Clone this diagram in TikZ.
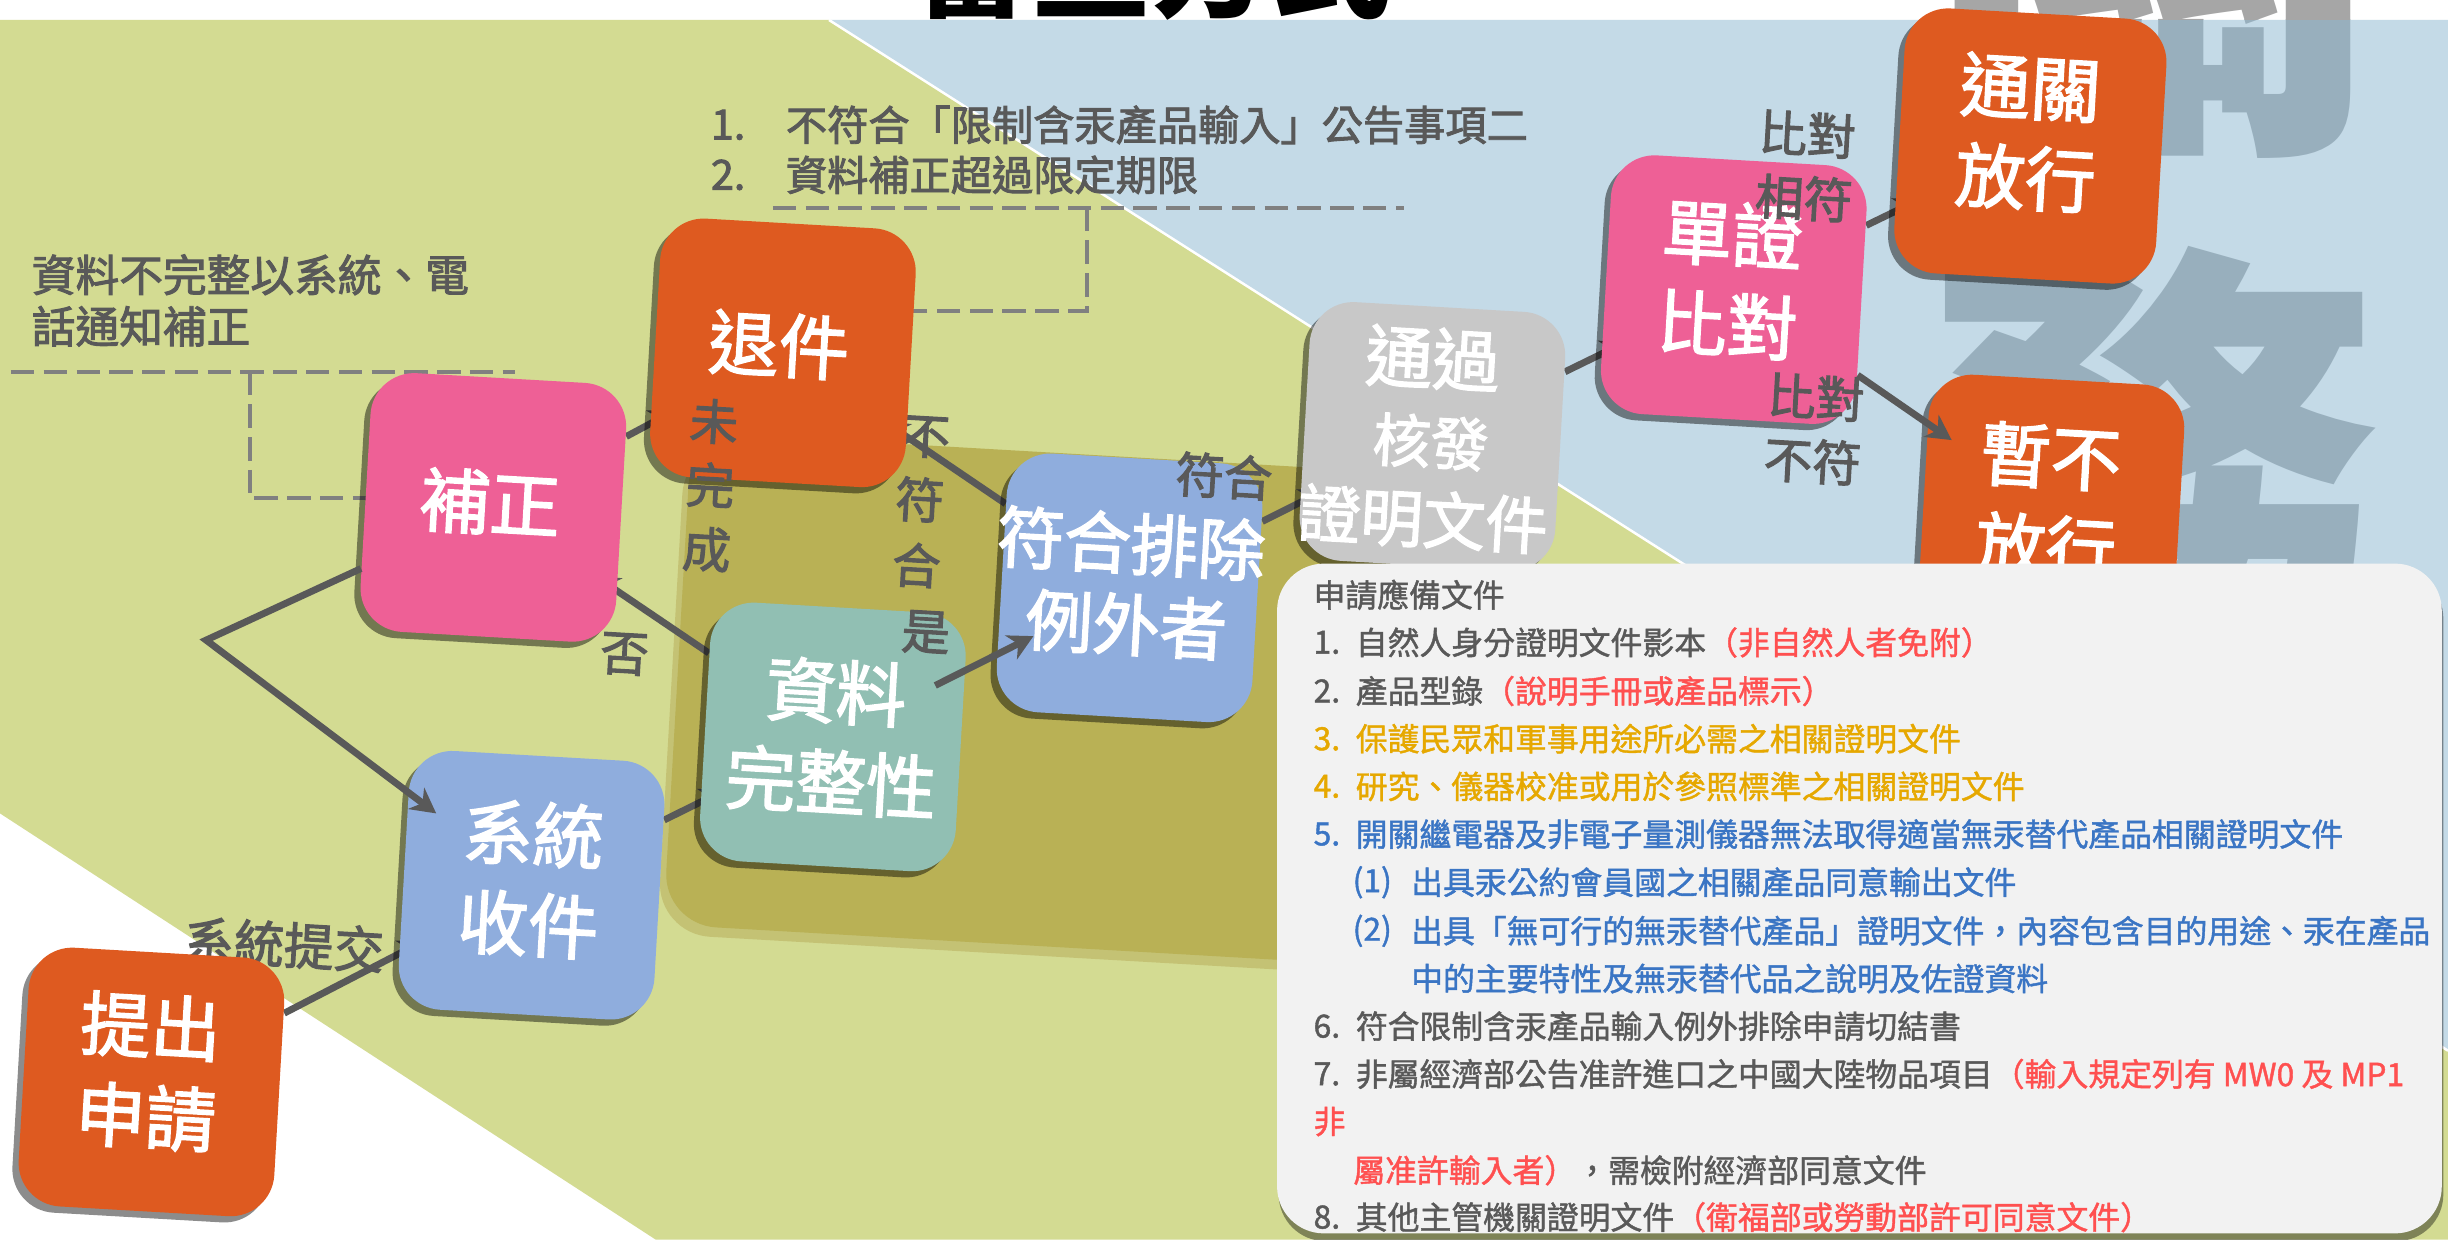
\documentclass[tikz,border=0pt]{standalone}
\usepackage{fontspec}
\setmainfont{Noto Sans CJK TC}
\newfontfamily\medf{Noto Sans CJK TC}[FakeBold=2.2]
\newfontfamily\semif{Noto Sans CJK TC}[FakeBold=1.3]
\usetikzlibrary{shadows,arrows.meta,calc}
\definecolor{cGreen}{RGB}{211,219,146}
\definecolor{cBlue}{RGB}{196,218,231}
\definecolor{cOlive}{RGB}{185,177,85}
\definecolor{cOliveL}{RGB}{196,194,116}
\definecolor{cOrange}{RGB}{222,90,32}
\definecolor{cPink}{RGB}{238,96,150}
\definecolor{cBoxBlue}{RGB}{143,173,221}
\definecolor{cTeal}{RGB}{145,191,179}
\definecolor{cGrayBox}{RGB}{200,200,200}
\definecolor{cLabel}{RGB}{89,89,89}
\definecolor{cDash}{RGB}{128,128,128}
\definecolor{cList}{RGB}{242,242,242}
\definecolor{cRed}{RGB}{255,80,80}
\definecolor{cGold}{RGB}{230,168,0}
\definecolor{cTBlue}{RGB}{58,117,196}
\definecolor{cWmBlue}{RGB}{152,175,189}
\definecolor{cWmGray}{RGB}{166,166,166}
\pgfdeclarelayer{bg}
\pgfdeclarelayer{mid}
\pgfdeclarelayer{fg}
\pgfsetlayers{bg,mid,main,fg}
\begin{document}
\begin{tikzpicture}[x=0.5pt,y=-0.5pt,
  flowbox/.style={rounded corners=14pt, minimum width=82pt, minimum height=83pt, rotate=-3.3, inner sep=0pt,
    drop shadow={shadow xshift=-2pt, shadow yshift=-2pt, opacity=0.45, fill=black}},
  btext/.style={text=white, font=\medf\fontsize{22.5pt}{29pt}\selectfont, align=center, rotate=-3.3, inner sep=0pt},
  lbl/.style={text=cLabel, font=\medf\fontsize{15.5pt}{20.5pt}\selectfont, align=center, rotate=-3.3, inner sep=0pt},
  notetxt/.style={text=cLabel, font=\medf\fontsize{13.2pt}{16pt}\selectfont, anchor=west, inner sep=0pt},
  conn/.style={draw=cLabel, line width=2.2pt, -{Stealth[length=8pt,width=8.5pt,inset=2.5pt]}},
  hid/.style={conn, shorten >=-9pt},
  dsh/.style={draw=cDash, line width=1.25pt, dash pattern=on 7.5pt off 3pt},
  lt/.style={font=\semif\fontsize{10.2pt}{12pt}\selectfont, anchor=west, inner sep=0pt, text=cLabel},
  wm/.style={font=\fontsize{147.5pt}{150pt}\selectfont\bfseries, anchor=base, inner sep=0pt}
]
\useasboundingbox (0,0) rectangle (1568,794);

\begin{pgfonlayer}{bg}
  \fill[white] (0,0) rectangle (1568,794);
  \begin{scope}
    \clip (0,0) rectangle (1568,12.8);
    \node[font=\fontsize{38.4pt}{40pt}\selectfont\bfseries, text=black, anchor=base, inner sep=0pt] (title) at (737.6,5.4) {審查方式};
  \end{scope}
  \fill[cGreen] (0,12.8) -- (531,12.8) -- (1568,673) -- (1568,794) -- (420,794) -- (0,521) -- cycle;
  \fill[cBlue] (531,12.8) -- (1568,12.8) -- (1568,673) -- cycle;
  \draw[white, line width=0.8pt] (531,12.8) -- (1568,673);
  \begin{scope}
    \clip (0,12.8) rectangle (1568,794);
    \node[wm, text=cWmBlue] (wmA) at (1378,75) {關};
    \node[wm, text=cWmBlue] (wmB) at (1378,410) {務};
  \end{scope}
  \begin{scope}
    \clip (0,0) rectangle (1568,12.8);
    \node[wm, text=cWmGray] (wmC) at (1378,75) {關};
  \end{scope}
  \node[fill=cOliveL, rounded corners=17pt, minimum width=237.5pt, minimum height=158pt, rotate=-3.3, inner sep=0pt] (olb) at (667,454) {};
  \node[fill=cOlive, rounded corners=17pt, minimum width=237.5pt, minimum height=158pt, rotate=-3.3, inner sep=0pt] (ol) at (671,448) {};
\end{pgfonlayer}

% boxes
\node[flowbox, fill=cOrange] (tc) at (97,693) {};
\node[btext] (tc-t) at (95,686.5) {提出\\申請};
\node[flowbox, fill=cBoxBlue] (xs) at (340.5,567) {};
\node[btext] (xs-t) at (340,563) {系統\\收件};
\node[flowbox, fill=cPink] (bz) at (316,325) {};
\node[btext] (bz-t) at (314,322) {補正};
\node[flowbox, fill=cOrange] (tj) at (501.5,226) {};
\node[btext] (tj-t) at (499,221) {退件};
\node[flowbox, fill=cTeal] (zl) at (533.5,472) {};
\node[btext] (zl-t) at (534,472) {資料\\完整性};
\node[flowbox, fill=cBoxBlue] (fh) at (723.5,376.5) {};
\node[btext, font=\medf\fontsize{21.5pt}{26pt}\selectfont] (fh-t) at (723,374) {符合排除\\例外者};
\node[flowbox, fill=cGrayBox] (tg) at (917.5,279.5) {};
\node[btext, font=\medf\fontsize{21.5pt}{26pt}\selectfont] (tg-t1) at (917.8,229.5) {通過};
\node[btext, font=\medf\fontsize{18.5pt}{22pt}\selectfont] (tg-t2) at (916.4,283) {核發};
\node[btext, font=\medf\fontsize{20pt}{24pt}\selectfont] (tg-t3) at (911.5,332.5) {證明文件};
\node[flowbox, fill=cPink] (dz) at (1110.5,185.5) {};
\node[btext] (dz-t) at (1108,179) {單證\\比對};
\node[flowbox, fill=cOrange, minimum width=84pt, minimum height=85pt] (tf) at (1300.5,93.5) {};
\node[btext] (tf-t) at (1299,85) {通關\\放行};
\node[flowbox, fill=cOrange] (zb) at (1314,326) {};
\node[btext] (zb-t) at (1312,321.5) {暫不\\放行};
\coordinate (apex) at (132,410);

\begin{pgfonlayer}{mid}
  % dashed notes
  \draw[dsh] (7,238) -- (330,238);
  \draw[dsh] (160,238) -- (160,319) -- (250,319);
  \draw[dsh] (495,133) -- (899,133);
  \draw[dsh] (696,133) -- (696,199) -- (570,199);
  \node[notetxt, font=\medf\fontsize{14pt}{16pt}\selectfont] (n1a) at (20,176) {資料不完整以系統、電};
  \node[notetxt, font=\medf\fontsize{14pt}{16pt}\selectfont] (n1b) at (20,209) {話通知補正};
  \node[notetxt] (n2a1) at (455,80) {1.};
  \node[notetxt] (n2a) at (503,80) {不符合「限制含汞產品輸入」公告事項二};
  \node[notetxt] (n2b1) at (455,112) {2.};
  \node[notetxt] (n2b) at (503,112) {資料補正超過限定期限};
  % hidden-end connectors
  \draw[hid] (tc) -- (xs);
  \draw[hid] (xs) -- (zl);
  \draw[hid] (zl) -- (bz);
  \draw[hid] (bz) -- (tj);
  \draw[hid] (fh) -- (tj);
  \draw[hid] (fh) -- (tg);
  \draw[hid] (tg) -- (dz);
  \draw[hid] (dz) -- (tf);
  \node[lbl, font=\medf\fontsize{16pt}{20pt}\selectfont] (l-xt) at (182,605) {系統提交};
  \node[lbl] (l-bu) at (593,280) {不};
\end{pgfonlayer}

\begin{pgfonlayer}{fg}
  \draw[conn] (bz) -- (apex) -- ($(apex)!0.707!(xs)$);
  \draw[conn] ($(zl)!0.345!(fh)$) -- ($(zl)!0.676!(fh)$);
  \draw[conn] (dz) -- ($(dz)!0.686!(zb)$);
  \node[lbl] (l-wwc) at (455,311) {未\\完\\成};
  \node[lbl] (l-fu) at (589,320) {符};
  \node[lbl] (l-he) at (587,362) {合};
  \node[lbl] (l-shi) at (593,405) {是};
  \node[lbl] (l-fou) at (400,419) {否};
  \node[lbl] (l-fh) at (784,305) {符合};
  \node[lbl] (l-bd1) at (1156.5,106.5) {比對\\相符};
  \node[lbl] (l-bd2) at (1162,275) {比對\\不符};
  % requirement list
  \node[fill=cList, rounded corners=15pt, minimum width=373pt, minimum height=214.5pt, inner sep=0pt,
        drop shadow={shadow xshift=0.5pt, shadow yshift=-2.5pt, opacity=0.4, fill=black}] (lb) at (1191,575.5) {};
  \node[lt] (r0) at (841,381) {申請應備文件};
  \node[lt] (r1n) at (841,411.5) {1.};
  \node[lt] (r1) at (868,411.5) {自然人身分證明文件影本\textcolor{cRed}{（非自然人者免附）}};
  \node[lt] (r2n) at (841,442.6) {2.};
  \node[lt] (r2) at (868,442.6) {產品型錄\textcolor{cRed}{（說明手冊或產品標示）}};
  \node[lt, text=cGold] (r3n) at (841,473.2) {3.};
  \node[lt, text=cGold] (r3) at (868,473.2) {保護民眾和軍事用途所必需之相關證明文件};
  \node[lt, text=cGold] (r4n) at (841,503.7) {4.};
  \node[lt, text=cGold] (r4) at (868,503.7) {研究、儀器校准或用於參照標準之相關證明文件};
  \node[lt, text=cTBlue] (r5n) at (841,534.3) {5.};
  \node[lt, text=cTBlue] (r5) at (868,534.3) {開關繼電器及非電子量測儀器無法取得適當無汞替代產品相關證明文件};
  \node[lt, text=cTBlue] (r51n) at (866,565.1) {(1)};
  \node[lt, text=cTBlue] (r51) at (903.5,565.1) {出具汞公約會員國之相關產品同意輸出文件};
  \node[lt, text=cTBlue] (r52n) at (866,596.2) {(2)};
  \node[lt, text=cTBlue] (r52) at (903.5,596.2) {出具「無可行的無汞替代產品」證明文件，內容包含目的用途、汞在產品};
  \node[lt, text=cTBlue] (r53) at (903.5,626.8) {中的主要特性及無汞替代品之說明及佐證資料};
  \node[lt] (r6n) at (841,657.3) {6.};
  \node[lt] (r6) at (868,657.3) {符合限制含汞產品輸入例外排除申請切結書};
  \node[lt] (r7n) at (841,687.9) {7.};
  \node[lt] (r7) at (868,687.9) {非屬經濟部公告准許進口之中國大陸物品項目\textcolor{cRed}{（輸入規定列有 MW0 及 MP1}};
  \node[lt, text=cRed] (r7b) at (841,718.4) {非};
  \node[lt] (r7c) at (866.4,749.6) {\textcolor{cRed}{屬准許輸入者）}，需檢附經濟部同意文件};
  \node[lt] (r8n) at (841,779.6) {8.};
  \node[lt] (r8) at (868,779.6) {其他主管機關證明文件\textcolor{cRed}{（衛福部或勞動部許可同意文件）}};
\end{pgfonlayer}
\end{tikzpicture}
\end{document}
